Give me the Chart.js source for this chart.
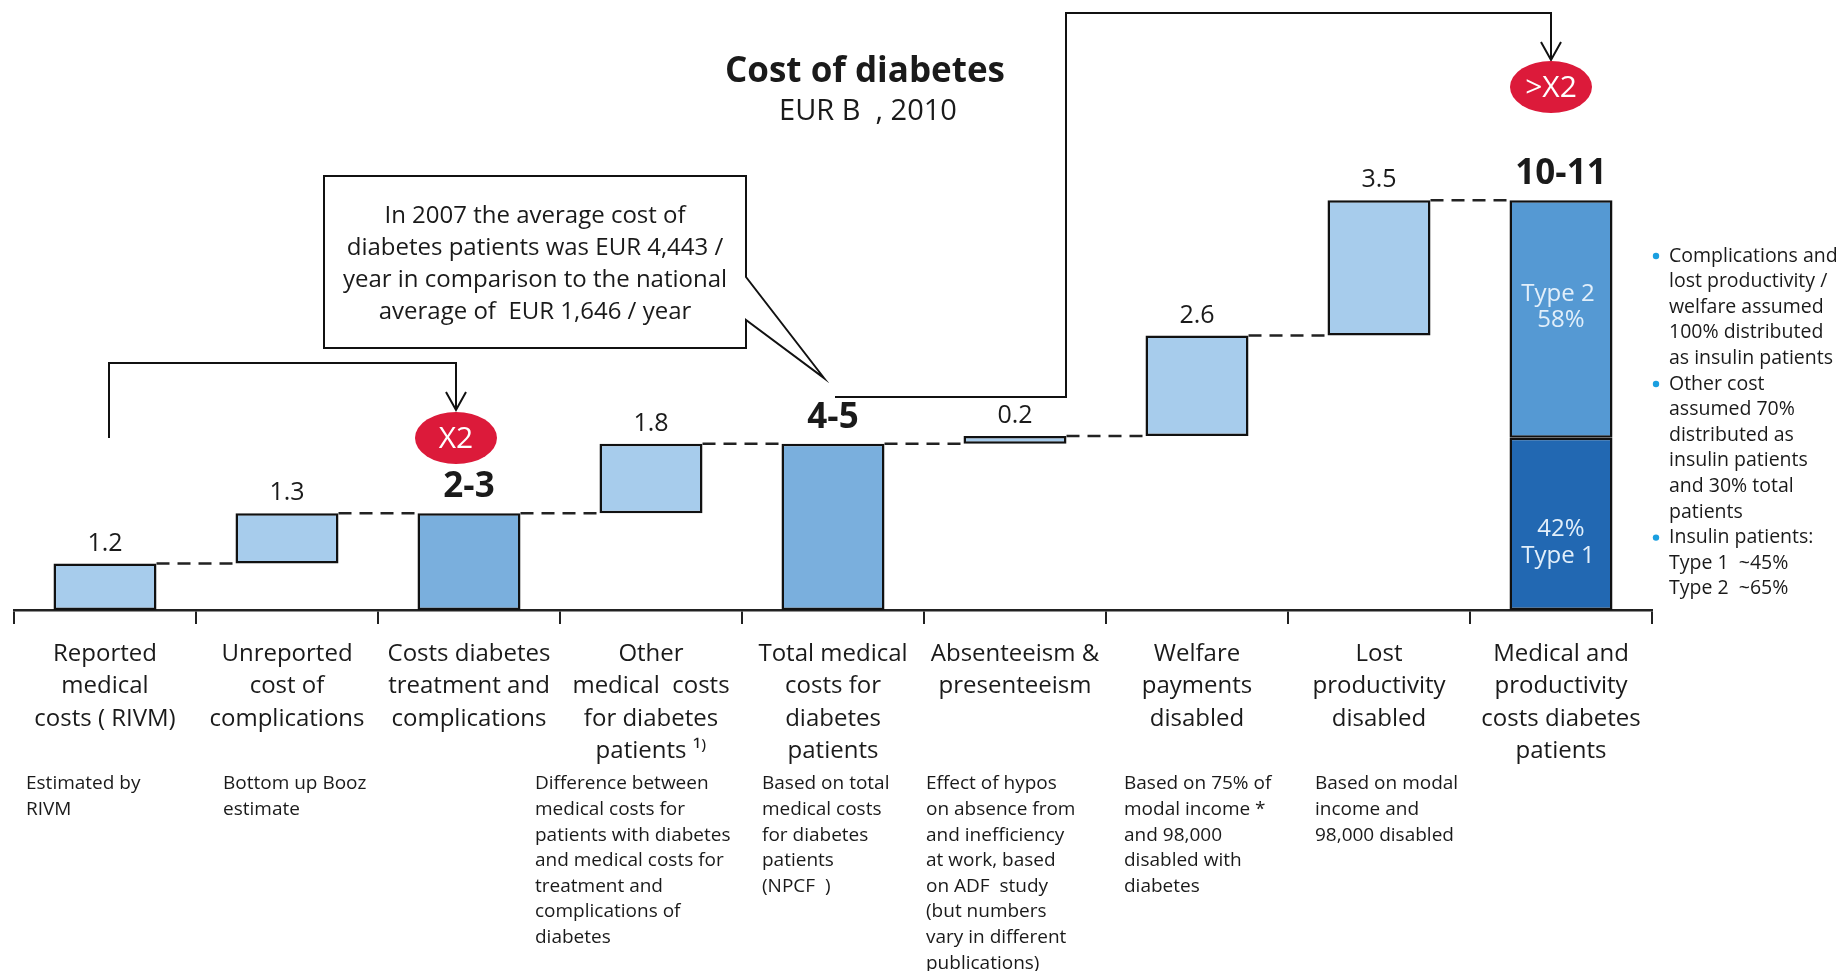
<!DOCTYPE html>
<html>
<head>
<meta charset="utf-8">
<script src="https://cdn.jsdelivr.net/npm/chart.js@4"></script>
<style>
	html, body { margin: 0; padding: 0; background: #fff; }
	#wrap { width: 1840px; height: 971px; position: relative; }
</style>
</head>
<body>
<div id="wrap"><canvas id="chart" width="1840" height="971"></canvas></div>
<script>
const categories = [
	['Reported', 'medical', 'costs ( RIVM)'],
	['Unreported', 'cost of', 'complications'],
	['Costs diabetes', 'treatment and', 'complications'],
	['Other', 'medical  costs', 'for diabetes', 'patients \u00b9\u207e'],
	['Total medical', 'costs for', 'diabetes', 'patients'],
	['Absenteeism &', 'presenteeism'],
	['Welfare', 'payments', 'disabled'],
	['Lost', 'productivity', 'disabled'],
	['Medical and', 'productivity', 'costs diabetes', 'patients']
];
const steps = [1.2, 1.3, 2.5, 1.8, 4.3, 0.2, 2.6, 3.5, 10.6];
const kinds = ['step', 'step', 'total', 'step', 'total', 'step', 'step', 'step', 'split'];
const valueLabels = ['1.2', '1.3', '2-3', '1.8', '4-5', '0.2', '2.6', '3.5', '10-11'];
const type1Share = 0.42;
const type2Share = 0.58;
const typeText = { type1: ['42%', 'Type 1'], type2: ['Type 2', '58%'] };

const notes = [
	['Estimated by', 'RIVM'],
	['Bottom up Booz', 'estimate'],
	[],
	['Difference between', 'medical costs for', 'patients with diabetes', 'and medical costs for', 'treatment and', 'complications of', 'diabetes'],
	['Based on total', 'medical costs', 'for diabetes', 'patients', '(NPCF  )'],
	['Effect of hypos', 'on absence from', 'and inefficiency', 'at work, based', 'on ADF  study', '(but numbers', 'vary in different', 'publications)'],
	['Based on 75% of', 'modal income *', 'and 98,000', 'disabled with', 'diabetes'],
	['Based on modal', 'income and', '98,000 disabled'],
	[]
];
const sideNotes = [
	['Complications and', 'lost productivity /', 'welfare assumed', '100% distributed', 'as insulin patients'],
	['Other cost', 'assumed 70%', 'distributed as', 'insulin patients', 'and 30% total', 'patients'],
	['Insulin patients:', 'Type 1  ~45%', 'Type 2  ~65%']
];
const calloutLines = ['In 2007 the average cost of', 'diabetes patients was EUR 4,443 /', 'year in comparison to the national', 'average of  EUR 1,646 / year'];

const colors = { step: '#A7CCEC', total: '#7AAFDD', split: '#5599D3', type1: '#2268B2' };
const FONT = "'Open Sans', 'DejaVu Sans', sans-serif";
const INK = '#1a1a1a';

// note x offsets from each category's left edge
const noteDx = [12, 27, 0, -25, 20, 2, 18, 27, 0];

// floating ranges for the waterfall
let level = 0;
const ranges = steps.map((v, i) => {
	if (kinds[i] === 'step') {
		const r = [level, level + v];
		level += v;
		return r;
	}
	level = v;
	if (kinds[i] === 'split') return [v * type1Share, v];
	return [0, v];
});
const type1Data = steps.map((v, i) => kinds[i] === 'split' ? [0, v * type1Share] : null);

const text = (ctx, s, x, y, font, color, align) => {
	ctx.font = font;
	ctx.fillStyle = color || INK;
	ctx.textAlign = align || 'center';
	ctx.textBaseline = 'middle';
	ctx.fillText(s, x, y);
}

const arrowDown = (ctx, x, y) => {
	ctx.beginPath();
	ctx.moveTo(x - 10, y - 18);
	ctx.lineTo(x, y);
	ctx.lineTo(x + 10, y - 18);
	ctx.stroke();
}

const badge = (ctx, x, y, label) => {
	ctx.beginPath();
	ctx.ellipse(x, y, 41, 26, 0, 0, Math.PI * 2);
	ctx.fillStyle = '#DC1A3A';
	ctx.fill();
	text(ctx, label, x, y + 1, '30px ' + FONT, '#fff');
}

const decor = {
	id: 'decor',
	afterDatasetsDraw(chart) {
		const ctx = chart.ctx;
		const y = chart.scales.y;
		const x = chart.scales.x;
		const bars = chart.getDatasetMeta(0).data;
		ctx.save();

		// dashed connectors
		ctx.strokeStyle = '#222';
		ctx.lineWidth = 2.5;
		ctx.setLineDash([13, 8]);
		for (let i = 0; i < bars.length - 1; i++) {
			const yy = y.getPixelForValue(ranges[i][1]);
			ctx.beginPath();
			ctx.moveTo(bars[i].x + bars[i].width / 2, yy);
			ctx.lineTo(bars[i + 1].x - bars[i + 1].width / 2, yy);
			ctx.stroke();
		}
		ctx.setLineDash([]);

		// value labels
		bars.forEach((b, i) => {
			const top = y.getPixelForValue(ranges[i][1]);
			if (kinds[i] === 'step')
				text(ctx, valueLabels[i], b.x, top - 20, '25px ' + FONT);
			else
				text(ctx, valueLabels[i], b.x, top - 26, 'bold 35px ' + FONT);
		});

		// type labels inside last bar
		const last = bars[bars.length - 1];
		const total = steps[steps.length - 1];
		const splitY = y.getPixelForValue(total * type1Share);
		text(ctx, typeText.type2[0], last.x - 3, y.getPixelForValue(total) + 94, '24px ' + FONT, '#E2EFFA');
		text(ctx, typeText.type2[1], last.x, y.getPixelForValue(total) + 120, '24px ' + FONT, '#E2EFFA');
		text(ctx, typeText.type1[0], last.x, splitY + 91, '24px ' + FONT, '#E2EFFA');
		text(ctx, typeText.type1[1], last.x - 3, splitY + 118, '24px ' + FONT, '#E2EFFA');

		// title
		text(ctx, 'Cost of diabetes', 865, 72, 'bold 35px ' + FONT);
		text(ctx, 'EUR B  , 2010', 868, 112, '29px ' + FONT);

		// callout box
		ctx.beginPath();
		ctx.moveTo(746, 277);
		ctx.lineTo(746, 176);
		ctx.lineTo(324, 176);
		ctx.lineTo(324, 348);
		ctx.lineTo(746, 348);
		ctx.lineTo(746, 320);
		ctx.lineTo(824, 378);
		ctx.closePath();
		ctx.fillStyle = '#fff';
		ctx.fill();
		ctx.strokeStyle = '#111';
		ctx.lineWidth = 2;
		ctx.stroke();
		calloutLines.forEach((l, i) => text(ctx, l, 535, 216 + i * 32, '24px ' + FONT));

		// brackets
		ctx.beginPath();
		ctx.moveTo(109, 438);
		ctx.lineTo(109, 363);
		ctx.lineTo(456, 363);
		ctx.lineTo(456, 410);
		ctx.stroke();
		arrowDown(ctx, 456, 410);
		badge(ctx, 456, 438, 'X2');

		ctx.beginPath();
		ctx.moveTo(835, 397);
		ctx.lineTo(1066, 397);
		ctx.lineTo(1066, 13);
		ctx.lineTo(1551, 13);
		ctx.lineTo(1551, 60);
		ctx.stroke();
		arrowDown(ctx, 1551, 60);
		badge(ctx, 1551, 87, '>X2');

		// notes under the categories
		const step = (x.right - x.left) / categories.length;
		notes.forEach((lines, i) => {
			const left = x.left + i * step + noteDx[i];
			lines.forEach((l, j) => text(ctx, l, left, 784 + j * 25.6, '19px ' + FONT, INK, 'left'));
		});

		// side notes
		let row = 0;
		sideNotes.forEach(lines => {
			ctx.beginPath();
			ctx.arc(1656, 256 + row * 25.6, 3.2, 0, Math.PI * 2);
			ctx.fillStyle = '#1A9FE0';
			ctx.fill();
			lines.forEach(l => {
				text(ctx, l, 1669, 256 + row * 25.6, '19.5px ' + FONT, INK, 'left');
				row++;
			});
		});

		ctx.restore();
	}
};

new Chart(document.getElementById('chart').getContext('2d'), {
	type: 'bar',
	data: {
		labels: categories,
		datasets: [{
			data: ranges,
			backgroundColor: kinds.map(k => colors[k]),
			borderColor: '#111',
			borderWidth: 2.5,
			borderSkipped: false,
			grouped: false,
			categoryPercentage: 1,
			barPercentage: 0.566
		}, {
			data: type1Data,
			backgroundColor: colors.type1,
			borderColor: '#111',
			borderWidth: 2.5,
			borderSkipped: false,
			grouped: false,
			categoryPercentage: 1,
			barPercentage: 0.566
		}]
	},
	options: {
		responsive: false,
		animation: false,
		layout: { padding: { left: 14, right: 188, top: 30, bottom: 0 } },
		plugins: { legend: { display: false }, tooltip: { enabled: false } },
		scales: {
			x: {
				offset: true,
				grid: { offset: true, drawOnChartArea: false, tickLength: 14, color: '#222', lineWidth: 2 },
				border: { display: true, color: '#222', width: 2.5 },
				ticks: { color: INK, font: { family: FONT, size: 24, lineHeight: 1.35 }, padding: 14, maxRotation: 0, autoSkip: false },
				afterFit: s => { s.height = 361; }
			},
			y: { display: false, min: 0, max: 15 }
		}
	},
	plugins: [decor]
});
</script>
</body>
</html>
